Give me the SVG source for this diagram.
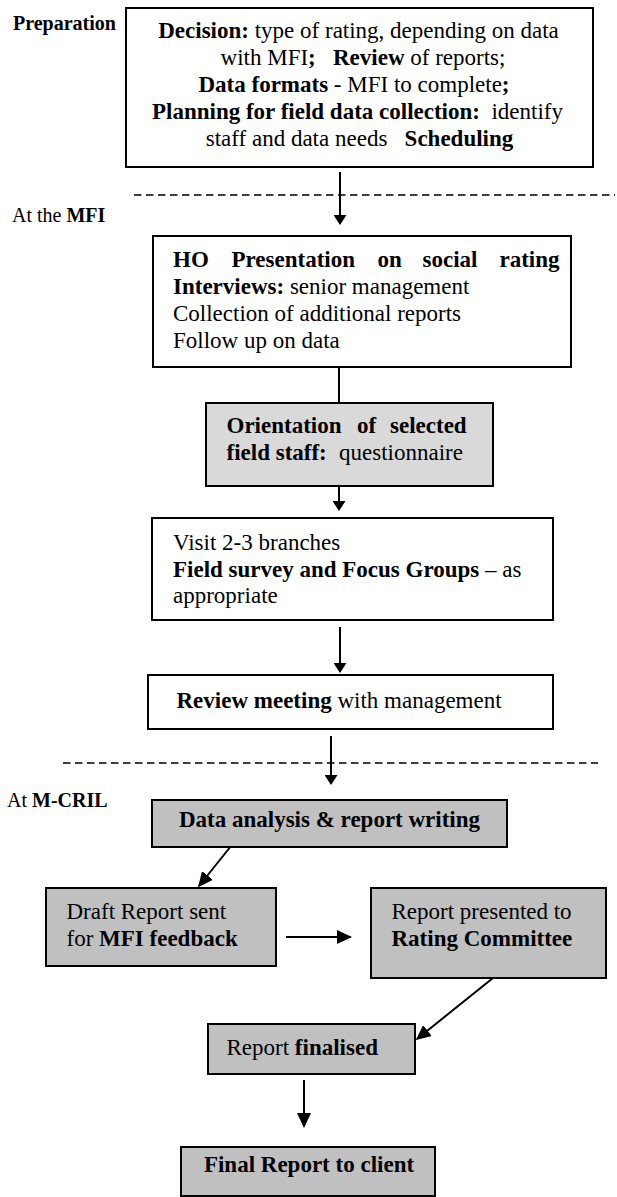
<svg xmlns="http://www.w3.org/2000/svg" width="617" height="1197" viewBox="0 0 617 1197">
<style>
.box{fill:#fff;stroke:#000;stroke-width:2}
.lg{fill:#d9d9d9}
.dk{fill:#c0c0c0}
.t{font-family:"Liberation Serif","Times New Roman",serif;font-size:23px;fill:#000}
.b{font-weight:bold}
.lbl{font-size:20px}
.c{text-anchor:middle}
.conn{stroke:#000;stroke-width:2;fill:none}
.dash{stroke:#000;stroke-width:1.5;stroke-dasharray:7.5 4.5;fill:none}
</style>
<defs>
<marker id="sm" viewBox="0 0 10 13" refX="8.5" refY="6.5" markerWidth="10" markerHeight="13" markerUnits="userSpaceOnUse" orient="auto">
<path d="M0,0 L10,6.5 L0,13 z" fill="#000"/>
</marker>
<marker id="lg" viewBox="0 0 15 14" refX="13.5" refY="7" markerWidth="15" markerHeight="14" markerUnits="userSpaceOnUse" orient="auto">
<path d="M0,0 L15,7 L0,14 z" fill="#000"/>
</marker>
</defs>

<g id="labels">
<text class="t b lbl" x="13" y="30">Preparation</text>
<text class="t lbl" x="12" y="222" xml:space="preserve">At the <tspan class="b">MFI</tspan></text>
<text class="t lbl" x="7" y="807" xml:space="preserve">At <tspan class="b">M-CRIL</tspan></text>
</g>

<g id="separators">
<line class="dash" x1="134" y1="195" x2="615" y2="195"/>
<line class="dash" x1="63" y1="763" x2="598" y2="763"/>
</g>

<g id="connectors">
<line class="conn" x1="340" y1="172" x2="340" y2="223.5" marker-end="url(#sm)"/>
<line class="conn" x1="339" y1="367" x2="339" y2="403"/>
<line class="conn" x1="339" y1="486" x2="339" y2="509.5" marker-end="url(#sm)"/>
<line class="conn" x1="340" y1="627" x2="340" y2="671.5" marker-end="url(#sm)"/>
<line class="conn" x1="331" y1="736" x2="331" y2="783.5" marker-end="url(#sm)"/>
<line class="conn" x1="239" y1="836" x2="199" y2="886" marker-end="url(#lg)"/>
<line class="conn" x1="286" y1="937" x2="350.5" y2="937" marker-end="url(#lg)"/>
<line class="conn" x1="493" y1="978" x2="417" y2="1039" marker-end="url(#lg)"/>
<line class="conn" x1="304" y1="1080" x2="304" y2="1126.5" marker-end="url(#lg)"/>
</g>

<g id="n-preparation">
<rect class="box" x="126" y="8" width="467" height="159"/>
<text class="t c" x="358.5" y="38" xml:space="preserve"><tspan class="b">Decision:</tspan> type of rating, depending on data</text>
<text class="t c" x="363" y="65" xml:space="preserve">with MFI<tspan class="b">;   Review</tspan> of reports;</text>
<text class="t c" x="354" y="92" xml:space="preserve"><tspan class="b">Data formats</tspan> - MFI to complete<tspan class="b">;</tspan></text>
<text class="t c" x="357.5" y="119" xml:space="preserve"><tspan class="b">Planning for field data collection:</tspan>  identify</text>
<text class="t c" x="359.5" y="146" xml:space="preserve">staff and data needs   <tspan class="b">Scheduling</tspan></text>
</g>

<g id="n-ho">
<rect class="box" x="153" y="236" width="418" height="131"/>
<text class="t b" y="267"><tspan x="173">HO</tspan><tspan x="231.5">Presentation</tspan><tspan x="377.5">on</tspan><tspan x="422.5">social</tspan><tspan x="499.5">rating</tspan></text>
<text class="t" x="173" y="294" xml:space="preserve"><tspan class="b">Interviews:</tspan> senior management</text>
<text class="t" x="173" y="321">Collection of additional reports</text>
<text class="t" x="173" y="348">Follow up on data</text>
</g>

<g id="n-orientation">
<rect class="box lg" x="206" y="403" width="287" height="83"/>
<text class="t b" y="433"><tspan x="226.5">Orientation</tspan><tspan x="357">of</tspan><tspan x="390">selected</tspan></text>
<text class="t" y="460"><tspan class="b" x="226.5">field staff:</tspan><tspan x="339">questionnaire</tspan></text>
</g>

<g id="n-visit">
<rect class="box" x="152" y="518" width="401" height="102"/>
<text class="t" x="173" y="550">Visit 2-3 branches</text>
<text class="t" x="173" y="577" xml:space="preserve"><tspan class="b">Field survey and Focus Groups</tspan> – as</text>
<text class="t" x="173" y="603">appropriate</text>
</g>

<g id="n-review">
<rect class="box" x="148" y="675" width="405" height="54"/>
<text class="t" x="176.5" y="708" xml:space="preserve"><tspan class="b">Review meeting</tspan> with management</text>
</g>

<g id="n-analysis">
<rect class="box dk" x="152" y="800" width="355" height="47"/>
<text class="t b c" x="329.5" y="827">Data analysis &amp; report writing</text>
</g>

<g id="n-draft">
<rect class="box dk" x="46" y="888" width="230" height="78"/>
<text class="t" x="66.5" y="919">Draft Report sent</text>
<text class="t" x="66.5" y="946" xml:space="preserve">for <tspan class="b">MFI feedback</tspan></text>
</g>

<g id="n-committee">
<rect class="box dk" x="371" y="888" width="235" height="90"/>
<text class="t" x="391.5" y="919">Report presented to</text>
<text class="t b" x="391.5" y="946">Rating Committee</text>
</g>

<g id="n-finalised">
<rect class="box dk" x="208" y="1024" width="207" height="50"/>
<text class="t" x="226.5" y="1055" xml:space="preserve">Report <tspan class="b">finalised</tspan></text>
</g>

<g id="n-final">
<rect class="box dk" x="181" y="1147" width="254" height="49"/>
<text class="t b c" x="309" y="1172">Final Report to client</text>
</g>
</svg>
